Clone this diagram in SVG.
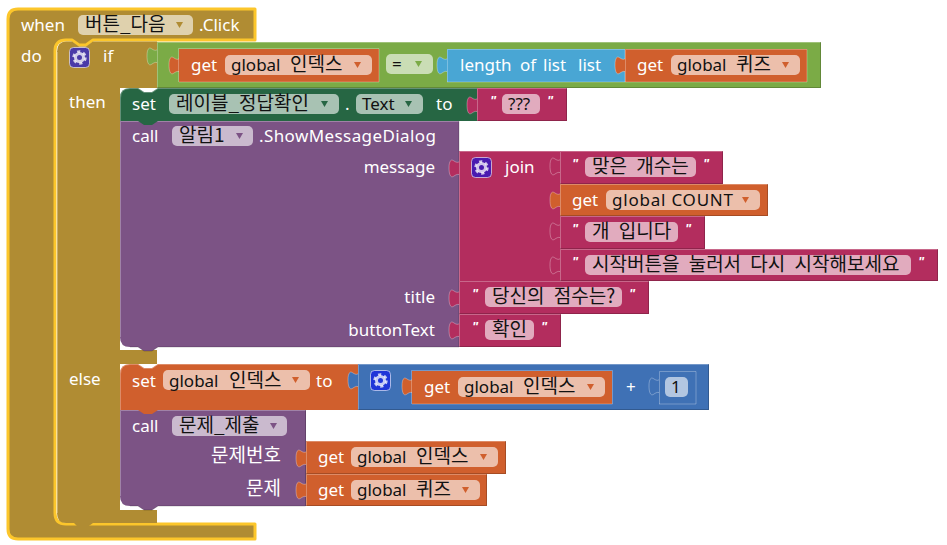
<svg xmlns="http://www.w3.org/2000/svg" width="947" height="545" viewBox="0 0 947 545">
<defs>
<style>
text{font-family:"Noto Sans","Noto Sans CJK KR",sans-serif;font-size:17px}
.h{font-family:"Noto Sans CJK KR","Noto Sans",sans-serif;font-size:19px;word-spacing:5px}
.w{fill:#fff}
.k{fill:#111}
.e{text-anchor:end}
.q{font-family:"Liberation Sans",sans-serif;font-style:italic;font-weight:bold;font-size:13px;fill:#fff}
.fld{fill:#fff;fill-opacity:.6}
.hl{fill:none;stroke:#fff;stroke-opacity:.28;stroke-width:1}
.sd{fill:none;stroke:#000;stroke-opacity:.2;stroke-width:1}
.y{stroke:#fcc62b;stroke-width:3;fill:#b08c33;stroke-linejoin:round}
#tab{stroke:#fff;stroke-opacity:.3;stroke-width:1}
.gold{fill:#b08c33}.org{fill:#d05f2d}.grn{fill:#7bab46}.sky{fill:#49a6d4}.dg{fill:#266643}.str{fill:#b32d5e}.pur{fill:#7c5385}.blu{fill:#3f71b5}
</style>
<path id="tab" d="M1,4C1,8 -2,8 -5,6C-9,3 -10,8 -10,13C-10,18 -9,24 -5,21C-2,19 1,18 1,23Z"/>
<path id="arr" d="M0,0h7l-3.500,6z"/>
<g id="gear"><rect x=".5" y=".5" width="20" height="20" rx="4" stroke="#fff" stroke-opacity=".6" stroke-width="1"/><circle cx="10.500" cy="10.500" r="4" fill="none" stroke="#fff" stroke-opacity=".75" stroke-width="3"/><circle cx="10.500" cy="10.500" r="6" fill="none" stroke="#fff" stroke-opacity=".75" stroke-width="2.400" stroke-dasharray="3.200 3.080"/></g>
</defs>
<rect width="947" height="545" fill="#fff"/>

<g id="when">
<path class="y" d="M8,19Q8,9 18,9H255V40H93L86,45H79L72,40H66Q55,40 55,51V513Q55,524 66,524H255V539H18Q8,539 8,529Z"/>
<text class="w" x="21" y="31">when</text>
<rect class="fld" x="78" y="15" width="115" height="20" rx="5"/>
<text class="k h" x="85" y="31">버튼_다음</text>
<use href="#arr" x="176" y="22" fill="#b08c33"/>
<text class="w" x="199" y="31">.Click</text>
<text class="w" x="21" y="62">do</text>
</g>

<g id="if">
<path class="gold" d="M57,52Q57,41.500 66,41.500H72L79,46.500H86L93,41.500H157V88H120V350H157V364H120V510H157V523H93L86,528H79L74,523H66Q57,523 57,513Z"/>
<path class="hl" d="M57.500,513V52"/>
<use href="#gear" x="69" y="47" fill="#4a3aa8"/>
<text class="w" x="103" y="62">if</text>
<text class="w" x="69" y="108">then</text>
<text class="w" x="69" y="385">else</text>
</g>

<g id="if-cond">
<use href="#tab" x="157" y="43" class="grn"/>
<rect class="grn" x="157" y="42" width="664" height="46"/>
<path class="hl" d="M157.500,88V42.500H821"/><path class="sd" d="M820.500,42V87.500H157"/>
</g>

<g id="get-index-1">
<use href="#tab" x="179" y="52" class="org"/>
<rect class="org" x="179" y="49" width="200" height="33"/>
<path class="hl" d="M178.500,82V48.500H379V82H179"/>
<text class="w" x="191" y="71">get</text>
<rect class="fld" x="225" y="55" width="147" height="20" rx="5"/>
<text class="k" x="231" y="71">global<tspan class="h" x="290">인덱스</tspan></text>
<use href="#arr" x="354" y="62" fill="#d05f2d"/>
</g>

<g id="eq">
<rect class="fld" x="386" y="54" width="47" height="20" rx="5"/>
<text class="k" x="392" y="70">=</text>
<use href="#arr" x="415" y="61" fill="#7bab46"/>
</g>

<g id="length">
<use href="#tab" x="447" y="52" class="sky"/>
<rect class="sky" x="447" y="49" width="178" height="33"/>
<path class="hl" d="M447.500,82V49.500H625V82H447"/>
<text class="w" x="460" y="71">length<tspan x="520">of</tspan><tspan x="543">list</tspan><tspan x="578">list</tspan></text>
</g>

<g id="get-quiz-1">
<use href="#tab" x="625" y="52" class="org"/>
<rect class="org" x="625" y="49" width="182" height="33"/>
<path class="hl" d="M625.500,82V49.500H807V82H625"/>
<text class="w" x="637" y="71">get</text>
<rect class="fld" x="671" y="55" width="129" height="20" rx="5"/>
<text class="k" x="677" y="71">global<tspan class="h" x="736">퀴즈</tspan></text>
<use href="#arr" x="782" y="62" fill="#d05f2d"/>
</g>

<g id="call-alert">
<rect x="120" y="338" width="38" height="12" fill="#fff"/>
<path class="pur" d="M120,121H459V347H158L152,351H144L138,347H130Q120,347 120,337Z"/>
<path class="hl" d="M120.500,337V121.500H459"/><path class="sd" d="M459,121V347H158L152,351H144L138,347H130"/>
<text class="w" x="132" y="142">call</text>
<rect class="fld" x="172" y="126" width="81" height="20" rx="5"/>
<text class="k h" x="179" y="142">알림1</text>
<use href="#arr" x="236" y="133" fill="#7c5385"/>
<text class="w" x="259" y="142" textLength="177">.ShowMessageDialog</text>
<text class="w e" x="435" y="173">message</text>
<text class="w e" x="435" y="303">title</text>
<text class="w e" x="435" y="336">buttonText</text>
</g>

<g id="set-label">
<path class="dg" d="M120,98Q120,88 130,88H138L144,92H152L158,88H477V121H158L152,125H144L138,121H120Z"/>
<path class="hl" d="M120.500,121V98Q120.500,88.500 130,88.500H138L144,92.500H152L158,88.500H477"/>
<text class="w" x="132" y="110">set</text>
<rect class="fld" x="169" y="94" width="170" height="20" rx="5"/>
<text class="k h" x="176" y="110">레이블_정답확인</text>
<use href="#arr" x="321" y="101" fill="#266643"/>
<text class="w" x="345" y="110">.</text>
<rect class="fld" x="356" y="94" width="67" height="20" rx="5"/>
<text class="k" x="362" y="110">Text</text>
<use href="#arr" x="405" y="101" fill="#266643"/>
<text class="w" x="436" y="110">to</text>
</g>

<g id="str-qqq">
<use href="#tab" x="477" y="92" class="str"/>
<rect class="str" x="477" y="88" width="90" height="33"/>
<path class="hl" d="M477.500,121V88.500H567"/><path class="sd" d="M566.500,88V120.500H477"/>
<text class="q" x="490" y="105">"</text>
<rect class="fld" x="502" y="94" width="38" height="20" rx="5"/>
<text class="k" x="508" y="110">???</text>
<text class="q" x="547" y="105">"</text>
</g>

<g id="join">
<use href="#tab" x="459" y="155" class="str"/>
<rect class="str" x="459" y="151" width="101" height="130"/>
<path class="hl" d="M459.500,281V151.500H560"/>
<use href="#gear" x="471" y="157" fill="#4a1bb0"/>
<text class="w" x="505" y="173">join</text>
</g>

<g id="str-correct">
<use href="#tab" x="560" y="153" class="str"/>
<rect class="str" x="560" y="151" width="163" height="33"/>
<path class="hl" d="M560.500,184V151.500H723"/><path class="sd" d="M722.500,151V183.500H560"/>
<text class="q" x="572" y="168">"</text>
<rect class="fld" x="585" y="157" width="111" height="20" rx="5"/>
<text class="k h" x="592" y="173">맞은 개수는</text>
<text class="q" x="703" y="168">"</text>
</g>

<g id="get-count">
<use href="#tab" x="560" y="187" class="org"/>
<rect class="org" x="560" y="184" width="208" height="32"/>
<path class="hl" d="M560.500,216V184.500H768"/><path class="sd" d="M767.500,184V215.500H560"/>
<text class="w" x="572" y="206">get</text>
<rect class="fld" x="606" y="190" width="154" height="20" rx="5"/>
<text class="k" x="612" y="206" textLength="121">global COUNT</text>
<use href="#arr" x="742" y="197" fill="#d05f2d"/>
</g>

<g id="str-count-suffix">
<use href="#tab" x="560" y="218" class="str"/>
<rect class="str" x="560" y="216" width="145" height="33"/>
<path class="hl" d="M560.500,249V216.500H705"/><path class="sd" d="M704.500,216V248.500H560"/>
<text class="q" x="572" y="233">"</text>
<rect class="fld" x="585" y="222" width="93" height="20" rx="5"/>
<text class="k h" x="592" y="238">개 입니다</text>
<text class="q" x="685" y="233">"</text>
</g>

<g id="str-restart">
<use href="#tab" x="560" y="252" class="str"/>
<rect class="str" x="560" y="249" width="378" height="32"/>
<path class="hl" d="M560.500,281V249.500H938"/><path class="sd" d="M937.500,249V280.500H560"/>
<text class="q" x="572" y="266">"</text>
<rect class="fld" x="585" y="255" width="326" height="20" rx="5"/>
<text class="k h" x="592" y="271">시작버튼을 눌러서 다시 시작해보세요</text>
<text class="q" x="918" y="266">"</text>
</g>

<g id="str-title">
<use href="#tab" x="459" y="285" class="str"/>
<rect class="str" x="459" y="281" width="190" height="33"/>
<path class="hl" d="M459.500,314V281.500H649"/><path class="sd" d="M648.500,281V313.500H459"/>
<text class="q" x="472" y="298">"</text>
<rect class="fld" x="485" y="287" width="137" height="20" rx="5"/>
<text class="k h" x="492" y="303">당신의 점수는?</text>
<text class="q" x="629" y="298">"</text>
</g>

<g id="str-ok">
<use href="#tab" x="459" y="317" class="str"/>
<rect class="str" x="459" y="314" width="102" height="33"/>
<path class="hl" d="M459.500,347V314.500H561"/><path class="sd" d="M560.500,314V346.500H459"/>
<text class="q" x="472" y="331">"</text>
<rect class="fld" x="485" y="320" width="49" height="20" rx="5"/>
<text class="k h" x="492" y="336">확인</text>
<text class="q" x="541" y="331">"</text>
</g>

<g id="call-submit">
<rect x="120" y="497" width="38" height="12" fill="#fff"/>
<path class="pur" d="M120,410H306V506H158L152,510H144L138,506H130Q120,506 120,496Z"/>
<path class="hl" d="M120.500,496V410.500H306"/><path class="sd" d="M305.500,410V506H158L152,510H144L138,506H130"/>
<text class="w" x="132" y="432">call</text>
<rect class="fld" x="172" y="416" width="115" height="20" rx="5"/>
<text class="k h" x="179" y="432">문제_제출</text>
<use href="#arr" x="270" y="423" fill="#7c5385"/>
<text class="w e h" x="281" y="462">문제번호</text>
<text class="w e h" x="281" y="495">문제</text>
</g>

<g id="set-index">
<path class="org" d="M120,374Q120,364 130,364H138L144,368H152L158,364H358V410H158L152,414H144L138,410H120Z"/>
<path class="hl" d="M120.500,410V374Q120.500,364.500 130,364.500H138L144,368.500H152L158,364.500H358"/>
<text class="w" x="132" y="387">set</text>
<rect class="fld" x="163" y="370" width="147" height="20" rx="5"/>
<text class="k" x="169" y="387">global<tspan class="h" x="229">인덱스</tspan></text>
<use href="#arr" x="292" y="377" fill="#d05f2d"/>
<text class="w" x="316" y="387">to</text>
</g>

<g id="add">
<use href="#tab" x="358" y="367" class="blu"/>
<rect class="blu" x="358" y="364" width="351" height="46"/>
<path class="hl" d="M358.500,410V364.500H709"/><path class="sd" d="M708.500,364V409.500H358"/>
<use href="#gear" x="370" y="370" fill="#1f35d8"/>
<text class="w" x="626" y="393">+</text>
</g>

<g id="get-index-2">
<use href="#tab" x="412" y="373" class="org"/>
<rect class="org" x="412" y="371" width="200" height="33"/>
<path class="hl" d="M411.500,404V370.500H612.500V404H412"/>
<text class="w" x="424" y="393">get</text>
<rect class="fld" x="458" y="377" width="147" height="20" rx="5"/>
<text class="k" x="464" y="393">global<tspan class="h" x="523">인덱스</tspan></text>
<use href="#arr" x="587" y="384" fill="#d05f2d"/>
</g>

<g id="num-1">
<use href="#tab" x="659" y="373" class="blu"/>
<rect class="blu" x="659" y="371" width="37" height="33"/>
<path class="hl" d="M659.500,404V371.500H696V404H659"/>
<rect class="fld" x="665" y="377" width="23" height="20" rx="5"/>
<text class="k" x="671" y="393">1</text>
</g>

<g id="get-index-3">
<use href="#tab" x="306" y="445" class="org"/>
<rect class="org" x="306" y="441" width="200" height="33"/>
<path class="hl" d="M306.500,474V441.500H506"/><path class="sd" d="M505.500,441V473.500H306"/>
<text class="w" x="318" y="463">get</text>
<rect class="fld" x="351" y="447" width="147" height="20" rx="5"/>
<text class="k" x="357" y="463">global<tspan class="h" x="416">인덱스</tspan></text>
<use href="#arr" x="480" y="454" fill="#d05f2d"/>
</g>

<g id="get-quiz-2">
<use href="#tab" x="306" y="477" class="org"/>
<rect class="org" x="306" y="474" width="181" height="32"/>
<path class="hl" d="M306.500,506V474.500H487"/><path class="sd" d="M486.500,474V505.500H306"/>
<text class="w" x="318" y="496">get</text>
<rect class="fld" x="351" y="480" width="129" height="20" rx="5"/>
<text class="k" x="357" y="496">global<tspan class="h" x="416">퀴즈</tspan></text>
<use href="#arr" x="462" y="487" fill="#d05f2d"/>
</g>
</svg>
